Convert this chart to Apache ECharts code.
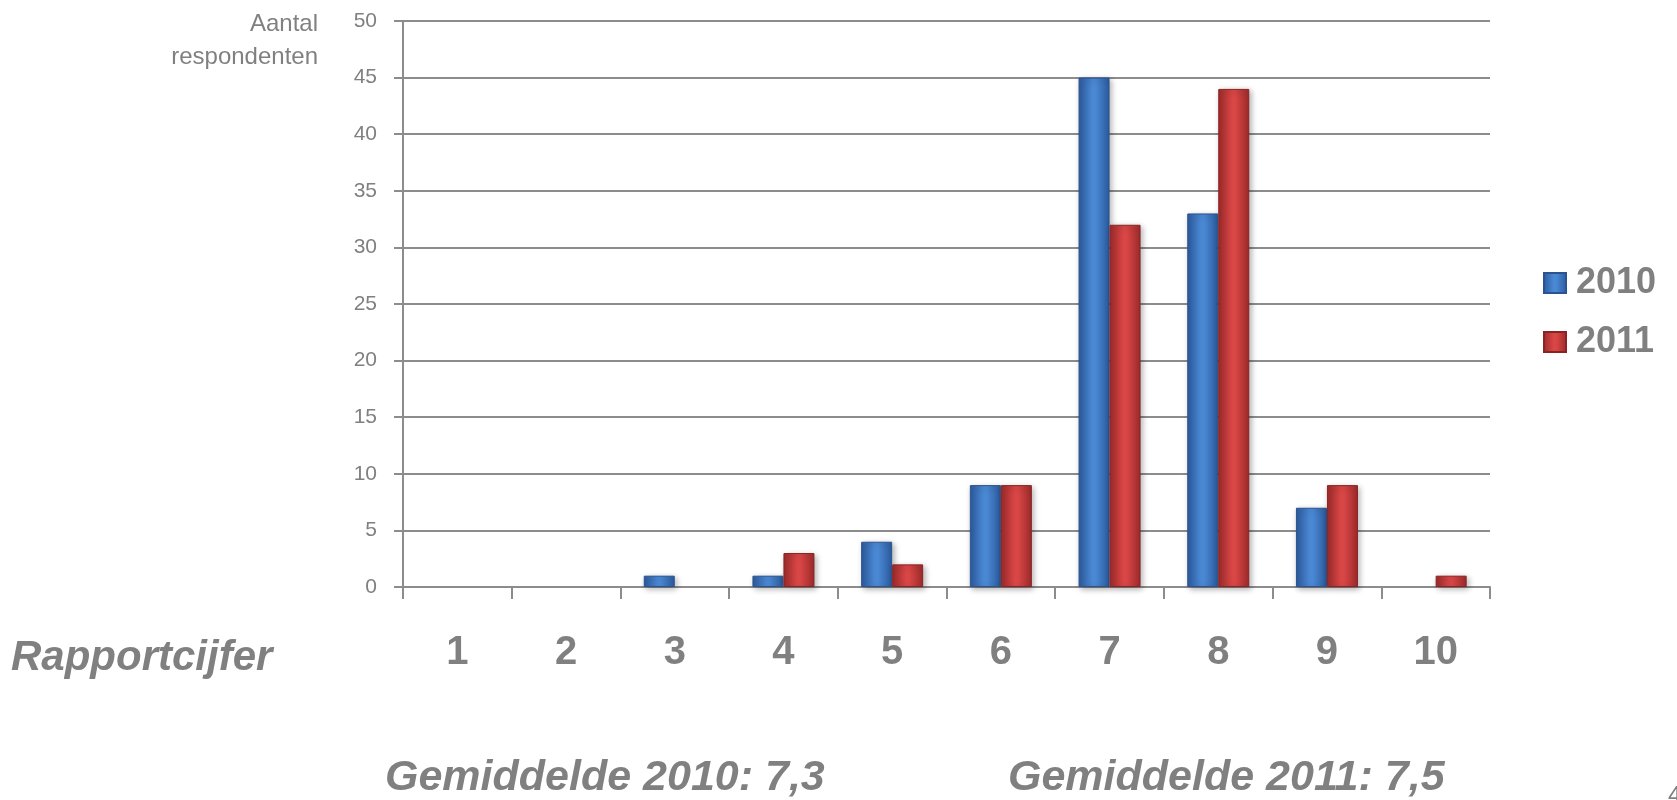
<!DOCTYPE html>
<html>
<head>
<meta charset="utf-8">
<script src="https://cdn.jsdelivr.net/npm/echarts@6/dist/echarts.min.js"></script>
<style>
html, body { margin: 0; padding: 0; background: #fff; }
#chart { width: 1677px; height: 800px; }
</style>
</head>
<body>
<div id="chart"></div>
<script>
// rapportcijfers
var categories = ['1', '2', '3', '4', '5', '6', '7', '8', '9', '10'];
var data2010 = [0, 0, 1, 1, 4, 9, 45, 33, 7, 0];
var data2011 = [0, 0, 0, 3, 2, 9, 32, 44, 9, 1];
var yTicks = { min: 0, max: 50, interval: 5 };

var textGrey = '#808080';
var lineGrey = '#8c8c8c';
var font = '"Liberation Sans", Arial, sans-serif';

var myChart = echarts.init(document.getElementById('chart'));

function barGrad(edge, mid) {
  return new echarts.graphic.LinearGradient(0, 0, 1, 0, [
    { offset: 0, color: edge },
    { offset: 0.45, color: mid },
    { offset: 0.55, color: mid },
    { offset: 1, color: edge }
  ]);
}

// nul = geen staaf
function noZero(arr) {
  return arr.map(function (v) { return v === 0 ? null : v; });
}

var option = {
  animation: false,
  textStyle: { fontFamily: font },
  grid: { left: 403, right: 187, top: 21, bottom: 213, containLabel: false, outerBoundsMode: 'none' },
  legend: {
    orient: 'vertical',
    left: 1538,
    top: 260,
    itemWidth: 22,
    itemHeight: 20,
    itemGap: 23,
    icon: 'rect',
    textStyle: { fontFamily: font, fontSize: 36, fontWeight: 'bold', color: textGrey, padding: [0, 0, 0, 5] },
    data: ['2010', '2011']
  },
  xAxis: {
    type: 'category',
    data: categories,
    axisLine: { lineStyle: { color: lineGrey, width: 2 } },
    axisTick: { show: true, length: 12, lineStyle: { color: lineGrey, width: 2 } },
    axisLabel: { fontSize: 40, fontWeight: 'bold', color: textGrey, margin: 46, fontFamily: font }
  },
  yAxis: {
    type: 'value',
    min: yTicks.min,
    max: yTicks.max,
    interval: yTicks.interval,
    axisLine: { show: true, lineStyle: { color: lineGrey, width: 2 } },
    axisTick: { show: true, length: 9, lineStyle: { color: lineGrey, width: 2 } },
    splitLine: { lineStyle: { color: lineGrey, width: 2 } },
    axisLabel: { fontSize: 21, color: textGrey, margin: 26, fontFamily: font }
  },
  series: [
    {
      name: '2010',
      type: 'bar',
      data: noZero(data2010),
      barWidth: 31,
      barGap: '0%',
      itemStyle: {
        color: barGrad('#2b5a9c', '#4a88d4'),
        borderColor: '#2a5390',
        borderWidth: 1,
        shadowBlur: 6,
        shadowColor: 'rgba(0,0,0,0.3)',
        shadowOffsetX: 2,
        shadowOffsetY: 2
      }
    },
    {
      name: '2011',
      type: 'bar',
      data: noZero(data2011),
      barWidth: 31,
      itemStyle: {
        color: barGrad('#9c2a2a', '#d94646'),
        borderColor: '#8a2424',
        borderWidth: 1,
        shadowBlur: 6,
        shadowColor: 'rgba(0,0,0,0.3)',
        shadowOffsetX: 2,
        shadowOffsetY: 2
      }
    }
  ],
  graphic: [
    {
      type: 'text',
      x: 318,
      y: 8,
      style: { text: 'Aantal\nrespondenten', font: '24px ' + font, fill: textGrey, align: 'right', verticalAlign: 'top', lineHeight: 33 }
    },
    {
      type: 'text',
      left: 11,
      top: 637,
      style: { text: 'Rapportcijfer', font: 'italic bold 42px ' + font, fill: textGrey }
    },
    {
      type: 'text',
      left: 385,
      top: 757,
      style: { text: 'Gemiddelde 2010: 7,3', font: 'italic bold 43px ' + font, fill: textGrey }
    },
    {
      type: 'text',
      left: 1008,
      top: 757,
      style: { text: 'Gemiddelde 2011: 7,5', font: 'italic bold 43px ' + font, fill: textGrey }
    },
    {
      type: 'text',
      left: 1668,
      top: 784,
      style: { text: '4', font: '24px ' + font, fill: textGrey }
    }
  ]
};

myChart.setOption(option);
</script>
</body>
</html>
